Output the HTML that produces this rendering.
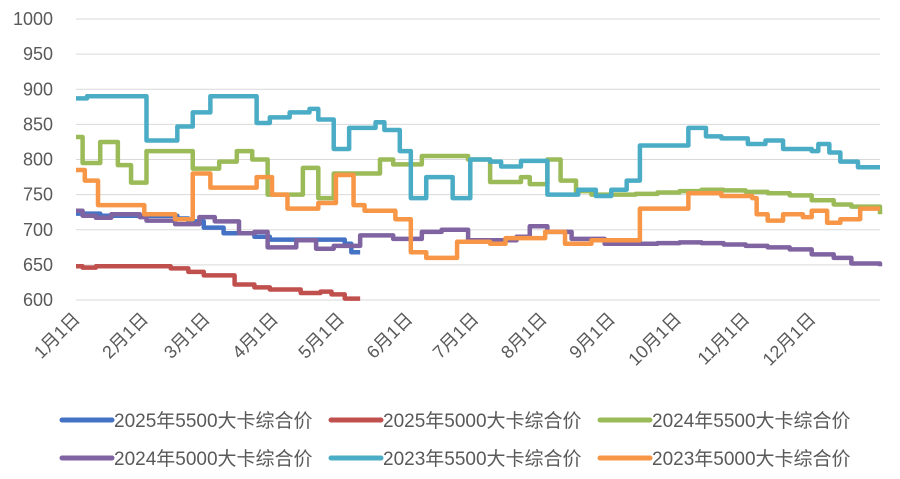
<!DOCTYPE html>
<html><head><meta charset="utf-8"><style>
body{margin:0;background:#fff;}
svg text{font-family:"Liberation Sans","Noto Sans CJK SC",sans-serif;fill:#595959;}
</style></head><body>
<svg id="chart" width="900" height="474" xmlns="http://www.w3.org/2000/svg">
<g id="grid"></g>
<g id="yaxis"></g>
<g id="xaxis"></g>
<g id="series"></g>
<g id="legend"></g>
</svg>
<script>
const yTicks=[600,650,700,750,800,850,900,950,1000];
const monthLabels=["1月1日","2月1日","3月1日","4月1日","5月1日","6月1日","7月1日","8月1日","9月1日","10月1日","11月1日","12月1日"];
const monthDays=[0,31,59,90,120,151,181,212,243,273,304,334];
const seriesNames=["2025年5500大卡综合价","2025年5000大卡综合价","2024年5500大卡综合价","2024年5000大卡综合价","2023年5500大卡综合价","2023年5000大卡综合价"];
const s2025_5500_days=[0,11,32,46,51,58,67,81,88,122,125];
const s2025_5500_vals=[723,720,720,716,712,703,695,690,686,680,668];
const s2025_5000_days=[0,3,9,29,43,51,58,72,81,88,102,111,116,122];
const s2025_5000_vals=[648,646,648,648,645,640,635,622,618,615,610,612,608,602];
const s2024_5500_days=[0,3,11,19,25,32,53,65,73,80,87,94,103,110,117,138,144,157,178,188,193,202,206,214,220,227,234,244,254,264,274,284,294,304,314,324,334,344,352,365];
const s2024_5500_vals=[832,795,825,792,767,812,787,797,812,800,750,750,788,745,780,800,793,805,800,768,768,775,765,800,770,755,750,750,751,753,755,757,756,754,752,749,742,736,733,722];
const s2024_5000_days=[0,3,9,16,29,32,45,56,63,74,81,87,100,109,117,129,144,157,166,178,200,206,214,225,240,254,264,274,284,294,304,314,324,334,344,352,365];
const s2024_5000_vals=[727,720,717,722,718,713,708,718,712,695,697,675,685,673,677,692,687,697,700,685,690,705,697,687,680,680,681,682,681,679,677,675,672,665,660,652,648];
const s2023_5500_days=[0,5,32,46,53,61,82,88,97,106,110,117,124,136,140,147,152,159,171,179,188,193,202,214,228,236,243,250,256,278,286,293,305,313,321,334,337,342,347,355];
const s2023_5500_vals=[887,890,827,847,867,890,852,860,867,872,857,815,845,853,842,812,745,775,745,800,797,790,798,750,757,748,757,770,820,845,833,830,822,827,815,812,822,810,797,789];
const s2023_5000_days=[0,4,10,31,45,53,61,82,89,96,110,118,126,131,145,152,159,173,188,195,213,222,234,256,278,293,307,309,314,321,330,334,341,347,356];
const s2023_5000_vals=[785,770,735,722,715,780,760,775,750,730,738,778,735,727,715,668,660,683,680,688,697,680,685,730,752,748,745,722,713,722,718,727,710,715,730];
const allDays=[s2025_5500_days,s2025_5000_days,s2024_5500_days,s2024_5000_days,s2023_5500_days,s2023_5000_days];
const allVals=[s2025_5500_vals,s2025_5000_vals,s2024_5500_vals,s2024_5000_vals,s2023_5500_vals,s2023_5000_vals];
const endDays=[129,129,365,365,365,365];
const colors=["#4472c4","#c0504d","#9bbb59","#8064a2","#4bacc6","#f79646"];
const NS="http://www.w3.org/2000/svg";
const X0=76,X1=880,Y0=300,Y1=19;
function xs(d){return X0+d*(X1-X0)/365;}
function ys(v){return Y0-(v-600)*(Y0-Y1)/400;}
function mk(t,a,p){const e=document.createElementNS(NS,t);for(const k in a)e.setAttribute(k,a[k]);p.appendChild(e);return e;}
const grid=document.getElementById('grid'),ya=document.getElementById('yaxis'),xa=document.getElementById('xaxis'),sg=document.getElementById('series'),lg=document.getElementById('legend');
yTicks.forEach(v=>{
 const l=mk('line',{x1:X0,x2:X1,y1:ys(v),y2:ys(v),stroke:'#d9d9d9','stroke-width':1},grid);
 
 
 const t=mk('text',{x:53,y:ys(v)+6,'text-anchor':'end','font-size':18},ya);t.textContent=v;
 
 
});
monthLabels.forEach((m,i)=>{
 const x=xs(monthDays[i])+5,y=320;
 const t=mk('text',{x:x,y:y,'text-anchor':'end','font-size':18,transform:`rotate(-45 ${x} ${y})`},xa);t.textContent=m;
 
 
});
allDays.forEach((days,si)=>{
 const vals=allVals[si];let d='';
 for(let i=0;i<days.length;i++){
  const x=xs(days[i]),y=ys(vals[i]);
  d+=(i===0?'M':'L')+x+' '+(i===0?y:ys(vals[i-1]))+(i===0?'':' L'+x+' '+y)+' ';
 }
 d+='L'+xs(endDays[si])+' '+ys(vals[vals.length-1]);
 const p=mk('path',{d:d,fill:'none',stroke:colors[si],'stroke-width':4.5,'stroke-linejoin':'round'},sg);
 
 
});
seriesNames.forEach((n,i)=>{
 const col=i%3,row=Math.floor(i/3);
 const lx=62+col*269,y=420+row*38;
 const g=mk('g',{},lg);
 
 
 mk('line',{x1:lx,x2:lx+50,y1:y,y2:y,stroke:colors[i],'stroke-width':5,'stroke-linecap':'round'},g);
 const t=mk('text',{x:lx+52,y:y+7,'font-size':19},g);t.textContent=n;
});
</script>
</body></html>
